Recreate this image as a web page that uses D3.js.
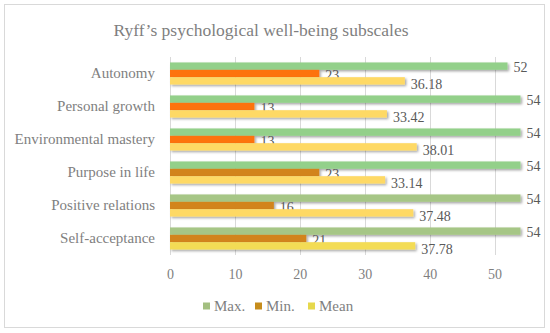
<!DOCTYPE html>
<html>
<head>
<meta charset="utf-8">
<script src="https://cdn.jsdelivr.net/npm/d3@7"></script>
<style>
  body { margin: 0; background: #fff; }
  text { font-family: "Liberation Serif", "DejaVu Serif", serif; }
</style>
</head>
<body>
<div class="svg-target"></div>
<script>
const categories = ['Autonomy', 'Personal growth', 'Environmental mastery', 'Purpose in life', 'Positive relations', 'Self-acceptance'];
const maxValues = [52, 54, 54, 54, 54, 54];
const minValues = [23, 13, 13, 23, 16, 21];
const meanValues = [36.18, 33.42, 38.01, 33.14, 37.48, 37.78];
const seriesNames = ['Max.', 'Min.', 'Mean'];
const xTicks = [0, 10, 20, 30, 40, 50];

const w = 550;
const h = 333;
const margin = { top: 57, right: 23, bottom: 78, left: 170 };

// bar colours drift a bit in the lower rows of the original
const barColors = {
    'Max.': i => i < 4 ? '#93d08a' : '#a6c686',
    'Min.': i => i < 3 ? '#fd7308' : '#d2841a',
    'Mean': i => i < 5 ? '#fed965' : '#f3dc55'
};
const legendColors = { 'Max.': '#a3bf80', 'Min.': '#c68c1c', 'Mean': '#e6d84c' };

const series = seriesNames.map((name, k) => ({
    name: name,
    values: [maxValues, minValues, meanValues][k]
}));

const svg = d3.select('.svg-target')
    .append('svg')
    .attr('width', w)
    .attr('height', h);

const defs = svg.append('defs');
defs.append('filter')
    .attr('id', 'shadow')
    .attr('x', '-5%').attr('y', '-40%').attr('width', '110%').attr('height', '200%')
    .append('feDropShadow')
    .attr('dx', 1.5).attr('dy', 1.5).attr('stdDeviation', 1)
    .attr('flood-color', '#000').attr('flood-opacity', 0.35);

// card border
svg.append('rect')
    .attr('x', 4.5).attr('y', 4.5)
    .attr('width', 540).attr('height', 323)
    .attr('fill', '#fff')
    .attr('stroke', '#d9d9d9');

svg.append('text')
    .attr('x', 261)
    .attr('y', 36)
    .attr('text-anchor', 'middle')
    .attr('font-size', 17.5)
    .attr('fill', '#7f7f7f')
    .text('Ryff\u2019s psychological well-being subscales');

const xScale = d3.scaleLinear()
    .domain([0, 55])
    .range([margin.left, w - margin.right]);

const yScale = d3.scaleBand()
    .domain(categories)
    .range([margin.top, h - margin.bottom])
    .paddingInner(0.33)
    .paddingOuter(0.165);

const inner = d3.scaleBand()
    .domain(seriesNames)
    .range([0, yScale.bandwidth()]);

// grid
svg.append('g')
    .selectAll('line')
    .data(xTicks)
    .enter()
    .append('line')
        .attr('x1', d => Math.round(xScale(d)) + 0.5)
        .attr('x2', d => Math.round(xScale(d)) + 0.5)
        .attr('y1', margin.top)
        .attr('y2', h - margin.bottom)
        .attr('stroke', '#d9d9d9');

// x axis
const xAxis = d3.axisBottom(xScale)
    .tickValues(xTicks)
    .tickSize(0)
    .tickPadding(14);

svg.append('g')
    .attr('transform', `translate(0, ${h - margin.bottom})`)
    .call(xAxis)
    .call(g => g.select('.domain').remove())
    .selectAll('text')
        .attr('font-size', 14)
        .attr('fill', '#7f7f7f')
        .style('font-family', '"Liberation Serif", serif');

// y axis
const yAxis = d3.axisLeft(yScale)
    .tickSize(0)
    .tickPadding(15);

svg.append('g')
    .attr('transform', `translate(${margin.left}, 0)`)
    .call(yAxis)
    .call(g => g.select('.domain').remove())
    .selectAll('text')
        .attr('font-size', 15)
        .attr('fill', '#7f7f7f')
        .style('font-family', '"Liberation Serif", serif');

// bars
const groups = svg.append('g')
    .selectAll('g')
    .data(series)
    .enter()
    .append('g');

groups.selectAll('rect')
    .data(s => s.values.map((v, i) => ({ name: s.name, value: v, cat: categories[i], i: i })))
    .enter()
    .append('rect')
        .attr('x', xScale(0))
        .attr('y', d => yScale(d.cat) + inner(d.name))
        .attr('width', d => xScale(d.value) - xScale(0))
        .attr('height', inner.bandwidth())
        .attr('fill', d => barColors[d.name](d.i))
        .attr('filter', 'url(#shadow)');

// value labels
const labelShift = { 'Max.': 1, 'Min.': 1.5, 'Mean': 3 };
groups.selectAll('text')
    .data(s => s.values.map((v, i) => ({ name: s.name, value: v, cat: categories[i] })))
    .enter()
    .append('text')
        .attr('x', d => xScale(d.value) + 6)
        .attr('y', d => yScale(d.cat) + inner(d.name) + inner.bandwidth() / 2 + labelShift[d.name])
        .attr('dy', '0.35em')
        .attr('font-size', 14)
        .attr('fill', '#595959')
        .text(d => d.value);

// legend
const legendX = [203, 255, 308];
const legend = svg.append('g')
    .selectAll('g')
    .data(seriesNames)
    .enter()
    .append('g')
        .attr('transform', (d, i) => `translate(${legendX[i]}, 306)`);

legend.append('rect')
    .attr('x', 0)
    .attr('y', -3.5)
    .attr('width', 7)
    .attr('height', 7)
    .attr('fill', d => legendColors[d]);

legend.append('text')
    .attr('x', 11)
    .attr('dy', '0.35em')
    .attr('font-size', 15)
    .attr('fill', '#7f7f7f')
    .text(d => d);
</script>
</body>
</html>
